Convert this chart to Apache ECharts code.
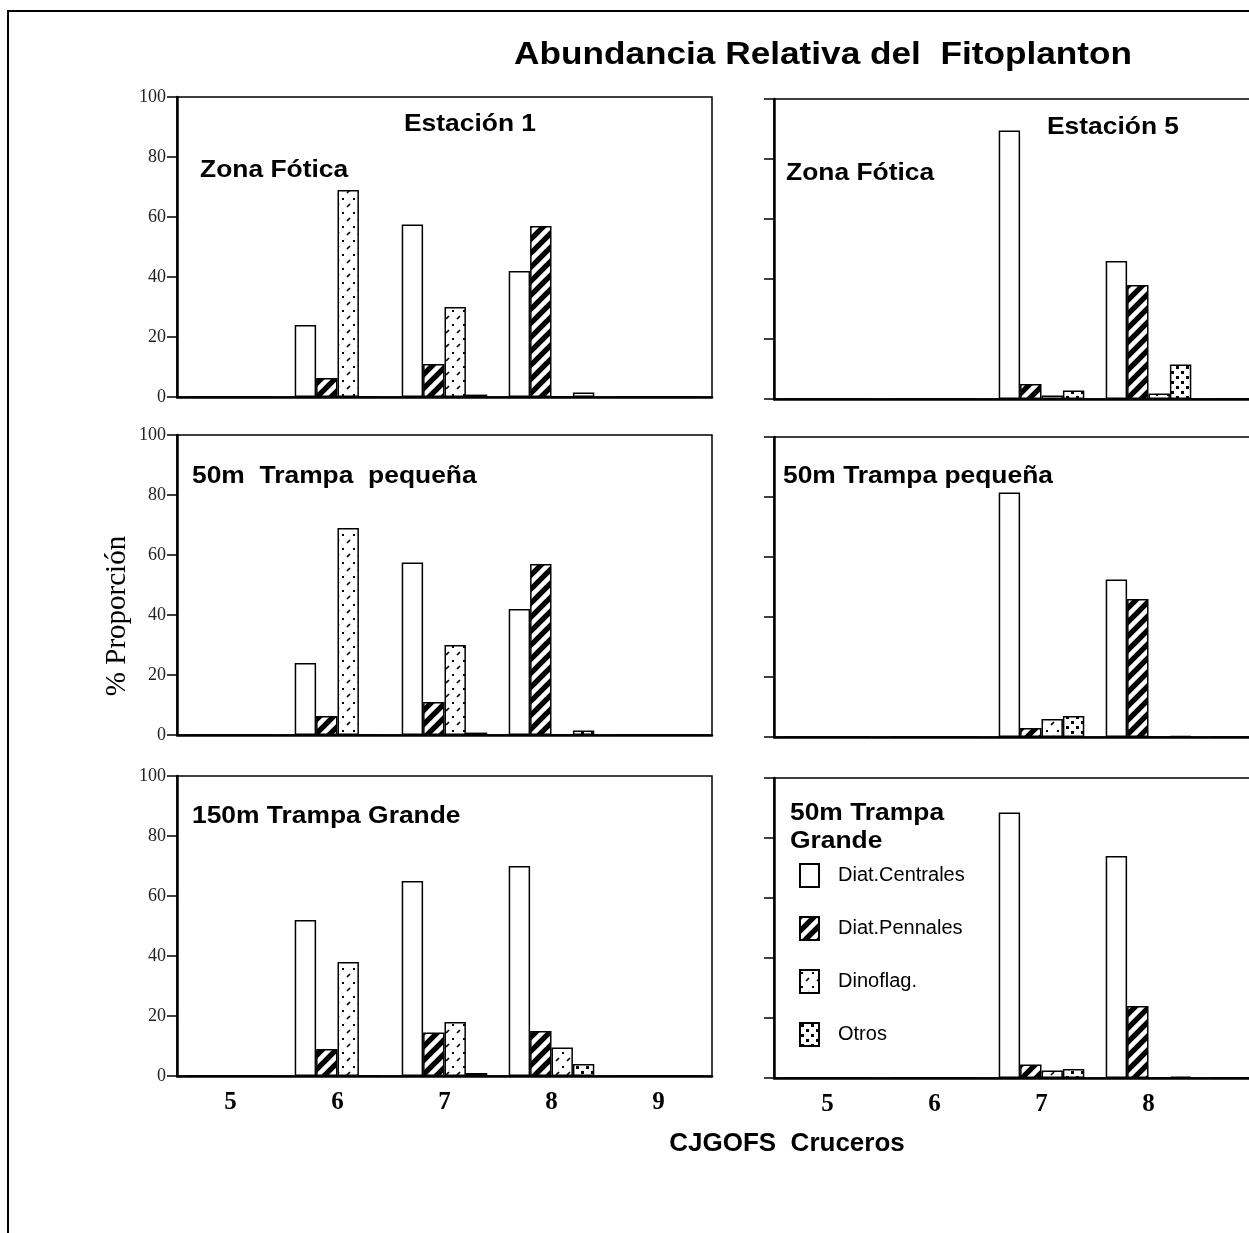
<!DOCTYPE html>
<html>
<head>
<meta charset="utf-8">
<script src="https://cdn.jsdelivr.net/npm/echarts@6/dist/echarts.min.js"></script>
<style>html,body{margin:0;padding:0;background:#fff}#c{width:1249px;height:1233px}</style>
</head>
<body>
<div id="c"></div>
<script>
// ---- data ----
const categories = ['5', '6', '7', '8', '9'];
const seriesNames = ['Diat.Centrales', 'Diat.Pennales', 'Dinoflag.', 'Otros'];

// Estación 1 – Zona Fótica
const e1ZonaCentrales = [0, 24, 57.5, 42, 0];
const e1ZonaPennales = [0, 6.3, 11, 57, 0];
const e1ZonaDinoflag = [0, 69, 30, 0, 0];
const e1ZonaOtros = [0, 0, 0.8, 1.5, 0];
// Estación 1 – 50m Trampa pequeña
const e1PeqCentrales = [0, 24, 57.5, 42, 0];
const e1PeqPennales = [0, 6.3, 11, 57, 0];
const e1PeqDinoflag = [0, 69, 30, 0, 0];
const e1PeqOtros = [0, 0, 0.8, 1.5, 0];
// Estación 1 – 150m Trampa Grande
const e1GraCentrales = [0, 52, 65, 70, 0];
const e1GraPennales = [0, 9, 14.5, 15, 0];
const e1GraDinoflag = [0, 38, 18, 9.5, 0];
const e1GraOtros = [0, 0, 1, 4, 0];
// Estación 5 – Zona Fótica
const e5ZonaCentrales = [0, 0, 89.5, 46, 0];
const e5ZonaPennales = [0, 0, 5, 38, 0];
const e5ZonaDinoflag = [0, 0, 1.2, 1.8, 0];
const e5ZonaOtros = [0, 0, 2.8, 11.5, 0];
// Estación 5 – 50m Trampa pequeña
const e5PeqCentrales = [0, 0, 81.5, 52.5, 0];
const e5PeqPennales = [0, 0, 3, 46, 0];
const e5PeqDinoflag = [0, 0, 6, 0, 0];
const e5PeqOtros = [0, 0, 7, 0.3, 0];
// Estación 5 – 50m Trampa Grande
const e5GraCentrales = [0, 0, 88.5, 74, 0];
const e5GraPennales = [0, 0, 4.5, 24, 0];
const e5GraDinoflag = [0, 0, 2.5, 0, 0];
const e5GraOtros = [0, 0, 3, 0.5, 0];

const panelData = [
  [e1ZonaCentrales, e1ZonaPennales, e1ZonaDinoflag, e1ZonaOtros],
  [e1PeqCentrales, e1PeqPennales, e1PeqDinoflag, e1PeqOtros],
  [e1GraCentrales, e1GraPennales, e1GraDinoflag, e1GraOtros],
  [e5ZonaCentrales, e5ZonaPennales, e5ZonaDinoflag, e5ZonaOtros],
  [e5PeqCentrales, e5PeqPennales, e5PeqDinoflag, e5PeqOtros],
  [e5GraCentrales, e5GraPennales, e5GraDinoflag, e5GraOtros]
];

// ---- fill patterns ----
function tile(w, h, draw) {
  const c = document.createElement('canvas');
  c.width = w; c.height = h;
  const ctx = c.getContext('2d');
  ctx.fillStyle = '#fff'; ctx.fillRect(0, 0, w, h);
  ctx.fillStyle = '#000'; ctx.strokeStyle = '#000';
  draw(ctx);
  return c;
}
const pennTile = tile(14, 14, ctx => {
  ctx.lineWidth = 5.4;
  [0, 14, 28].forEach(k => {
    ctx.beginPath(); ctx.moveTo(-6, k + 6); ctx.lineTo(k + 6, -6); ctx.stroke();
  });
});
const dinoTile = tile(11, 14, ctx => {
  ctx.fillRect(1, 2, 2, 2);
  ctx.lineWidth = 1.7;
  ctx.beginPath(); ctx.moveTo(6, 11); ctx.lineTo(9, 8); ctx.stroke();
});
const otrTile = tile(10, 10, ctx => {
  ctx.fillRect(1, 1, 3, 3);
  ctx.fillRect(6, 6, 3, 3);
});
const fills = [
  '#ffffff',
  { image: pennTile, repeat: 'repeat' },
  { image: dinoTile, repeat: 'repeat' },
  { image: otrTile, repeat: 'repeat' }
];

// ---- layout ----
const grids = [
  { left: 177, top: 97, width: 535, height: 300 },
  { left: 177, top: 435, width: 535, height: 300 },
  { left: 177, top: 776, width: 535, height: 300 },
  { left: 774, top: 99, width: 535, height: 300 },
  { left: 774, top: 437, width: 535, height: 300 },
  { left: 774, top: 778, width: 535, height: 300 }
].map(g => Object.assign(g, {
  show: true, borderColor: '#000', borderWidth: 1.5, backgroundColor: 'transparent',
  containLabel: false, outerBoundsMode: 'none'
}));

const xAxes = grids.map((g, i) => ({
  type: 'category', gridIndex: i, data: categories,
  axisLine: { lineStyle: { color: '#000', width: 2.5 } },
  axisTick: { alignWithLabel: true, length: 9, lineStyle: { color: '#000', width: 1.5 } },
  axisLabel: {
    show: i === 2 || i === 5, margin: 14,
    fontFamily: 'Liberation Serif', fontWeight: 'bold', fontSize: 25, color: '#000'
  },
  splitLine: { show: false }
}));
const yAxes = grids.map((g, i) => ({
  type: 'value', gridIndex: i, min: 0, max: 100, interval: 20,
  axisLine: { show: true, lineStyle: { color: '#000', width: 2.5 } },
  axisTick: { show: true, length: 10, lineStyle: { color: '#000', width: 1.5 } },
  axisLabel: { show: i < 3, margin: 11, fontFamily: 'Liberation Serif', fontSize: 18, color: '#222' },
  splitLine: { show: false }
}));

const series = [];
panelData.forEach((arrs, p) => {
  arrs.forEach((vals, k) => {
    series.push({
      type: 'bar', name: seriesNames[k], xAxisIndex: p, yAxisIndex: p, data: vals,
      barGap: '0%', barCategoryGap: '20%',
      itemStyle: { color: fills[k], borderColor: '#000', borderWidth: 1.5 },
      emphasis: { disabled: true }, silent: true
    });
  });
});

const boldFont = 'Liberation Sans';
function label(text, x, y, size, opts) {
  opts = opts || {};
  return {
    type: 'text', x: x, y: y, scaleX: opts.sx || 1, rotation: opts.rot || 0, silent: true, z: 100,
    style: {
      text: text, fill: '#000', fontFamily: opts.family || boldFont,
      fontWeight: opts.weight || 'bold', fontSize: size,
      textAlign: opts.align || 'left', textVerticalAlign: 'middle'
    }
  };
}

const graphics = [
  { type: 'rect', shape: { x: 8, y: 11, width: 1400, height: 1400 }, style: { fill: null, stroke: '#000', lineWidth: 2 }, silent: true, z: 0 },
  label('Abundancia Relativa del  Fitoplanton', 823, 55, 32, { align: 'center', sx: 1.1 }),
  label('Estación 1', 470, 124, 24, { align: 'center', sx: 1.1 }),
  label('Zona Fótica', 200, 170, 24, { sx: 1.1 }),
  label('Estación 5', 1047, 127, 24, { sx: 1.1 }),
  label('Zona Fótica', 786, 173, 24, { sx: 1.1 }),
  label('50m  Trampa  pequeña', 192, 476, 24, { sx: 1.1 }),
  label('50m Trampa pequeña', 783, 476, 24, { sx: 1.1 }),
  label('150m Trampa Grande', 192, 816, 24, { sx: 1.1 }),
  label('50m Trampa', 790, 813, 24, { sx: 1.1 }),
  label('Grande', 790, 841, 24, { sx: 1.1 }),
  label('CJGOFS  Cruceros', 787, 1144, 26, { align: 'center' }),
  label('% Proporción', 117, 616, 29, { align: 'center', family: 'Liberation Serif', weight: 'normal', rot: Math.PI / 2 })
];

const chart = echarts.init(document.getElementById('c'), null, { renderer: 'canvas' });
chart.setOption({
  animation: false,
  backgroundColor: '#fff',
  grid: grids,
  xAxis: xAxes,
  yAxis: yAxes,
  series: series,
  legend: {
    data: seriesNames, orient: 'vertical', left: 799, top: 863, padding: 0,
    itemWidth: 19, itemHeight: 23, itemGap: 28, icon: 'rect',
    selectedMode: false,
    textStyle: { fontFamily: 'Liberation Sans', fontSize: 20, color: '#000', padding: [0, 0, 0, 14] }
  },
  graphic: graphics
});
</script>
</body>
</html>
